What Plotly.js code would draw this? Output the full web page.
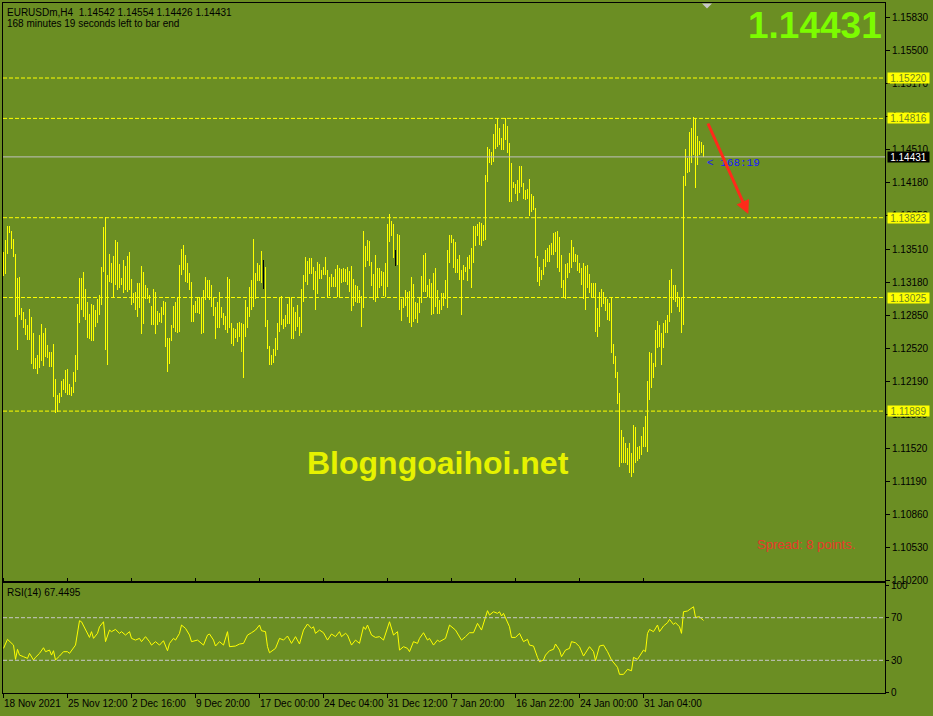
<!DOCTYPE html>
<html><head><meta charset="utf-8">
<script src="https://cdn.plot.ly/plotly-3.0.1.min.js"></script>
<style>html,body{margin:0;padding:0;background:#6B8E23;}#chart{width:933px;height:716px;}</style>
</head><body><div id="chart"></div>
<script>
// EURUSDm H4 bars (high / low), one per 4-hour bar
const highs = [
1.1348,1.1360,1.1374,1.1374,1.1369,1.1361,1.1346,1.1322,1.1323,1.1292,
1.1288,1.1281,1.1275,1.1291,1.1283,1.1267,1.1242,1.1245,1.1265,1.1276,
1.1267,1.1272,1.1255,1.1248,1.1248,1.1256,1.1221,1.1205,1.1207,1.1219,
1.1221,1.1230,1.1231,1.1216,1.1213,1.1228,1.1245,1.1296,1.1322,1.1322,
1.1328,1.1311,1.1298,1.1286,1.1296,1.1295,1.1290,1.1301,1.1305,1.1333,
1.1373,1.1383,1.1325,1.1346,1.1337,1.1344,1.1360,1.1358,1.1336,1.1322,
1.1340,1.1334,1.1344,1.1348,1.1321,1.1307,1.1308,1.1317,1.1317,1.1334,
1.1328,1.1315,1.1312,1.1305,1.1294,1.1311,1.1308,1.1289,1.1287,1.1293,
1.1299,1.1298,1.1262,1.1262,1.1275,1.1294,1.1298,1.1302,1.1335,1.1351,
1.1355,1.1345,1.1337,1.1327,1.1318,1.1295,1.1299,1.1303,1.1303,1.1303,
1.1310,1.1323,1.1320,1.1320,1.1315,1.1303,1.1293,1.1298,1.1308,1.1293,
1.1287,1.1284,1.1323,1.1321,1.1277,1.1272,1.1271,1.1277,1.1278,1.1277,
1.1276,1.1300,1.1293,1.1313,1.1320,1.1361,1.1327,1.1337,1.1335,1.1349,
1.1340,1.1333,1.1280,1.1254,1.1245,1.1251,1.1262,1.1277,1.1303,1.1304,
1.1281,1.1285,1.1296,1.1303,1.1303,1.1293,1.1288,1.1295,1.1283,1.1311,
1.1325,1.1343,1.1339,1.1342,1.1342,1.1333,1.1329,1.1338,1.1336,1.1330,
1.1333,1.1343,1.1330,1.1323,1.1326,1.1323,1.1331,1.1335,1.1332,1.1331,
1.1332,1.1331,1.1333,1.1329,1.1334,1.1321,1.1315,1.1314,1.1310,1.1304,
1.1369,1.1354,1.1360,1.1359,1.1338,1.1326,1.1345,1.1332,1.1332,1.1329,
1.1328,1.1337,1.1376,1.1386,1.1379,1.1376,1.1350,1.1366,1.1365,1.1301,
1.1303,1.1310,1.1308,1.1309,1.1323,1.1316,1.1298,1.1297,1.1302,1.1324,
1.1345,1.1347,1.1315,1.1321,1.1317,1.1327,1.1332,1.1310,1.1300,1.1307,
1.1307,1.1320,1.1350,1.1365,1.1365,1.1361,1.1358,1.1341,1.1345,1.1330,
1.1335,1.1333,1.1343,1.1345,1.1352,1.1374,1.1374,1.1376,1.1378,1.1377,
1.1375,1.1425,1.1453,1.1451,1.1448,1.1466,1.1476,1.1482,1.1472,1.1462,
1.1476,1.1482,1.1474,1.1457,1.1437,1.1418,1.1416,1.1420,1.1434,1.1434,
1.1417,1.1410,1.1411,1.1421,1.1406,1.1404,1.1392,1.1344,1.1333,1.1330,
1.1341,1.1350,1.1352,1.1355,1.1357,1.1367,1.1368,1.1369,1.1363,1.1345,
1.1320,1.1336,1.1337,1.1347,1.1360,1.1353,1.1346,1.1345,1.1337,1.1332,
1.1337,1.1334,1.1335,1.1326,1.1317,1.1317,1.1317,1.1292,1.1308,1.1311,
1.1308,1.1303,1.1301,1.1297,1.1302,1.1256,1.1244,1.1228,1.1207,1.1170,
1.1163,1.1157,1.1152,1.1157,1.1147,1.1175,1.1173,1.1153,1.1154,1.1164,
1.1173,1.1184,1.1219,1.1248,1.1247,1.1237,1.1270,1.1279,1.1275,1.1267,
1.1277,1.1280,1.1285,1.1320,1.1331,1.1315,1.1315,1.1308,1.1303,1.1303,
1.1424,1.1451,1.1442,1.1468,1.1472,1.1483,1.1482,1.1464,1.1459,1.1458,1.14554
];
const lows = [
1.1324,1.1326,1.1346,1.1367,1.1351,1.1343,1.1283,1.1250,1.1285,1.1280,
1.1272,1.1265,1.1260,1.1260,1.1236,1.1231,1.1231,1.1226,1.1232,1.1239,
1.1234,1.1243,1.1242,1.1233,1.1233,1.1203,1.1187,1.1188,1.1197,1.1203,
1.1210,1.1207,1.1205,1.1205,1.1204,1.1207,1.1218,1.1230,1.1277,1.1290,
1.1283,1.1280,1.1262,1.1261,1.1259,1.1259,1.1273,1.1277,1.1285,1.1295,
1.1328,1.1250,1.1235,1.1318,1.1317,1.1303,1.1315,1.1310,1.1312,1.1315,
1.1307,1.1310,1.1308,1.1310,1.1295,1.1297,1.1290,1.1283,1.1292,1.1266,
1.1276,1.1301,1.1301,1.1297,1.1275,1.1275,1.1266,1.1275,1.1278,1.1277,
1.1285,1.1253,1.1228,1.1236,1.1259,1.1272,1.1268,1.1267,1.1268,1.1325,
1.1330,1.1318,1.1317,1.1310,1.1278,1.1278,1.1287,1.1287,1.1286,1.1266,
1.1267,1.1300,1.1302,1.1300,1.1293,1.1284,1.1261,1.1272,1.1272,1.1282,
1.1275,1.1270,1.1267,1.1272,1.1256,1.1254,1.1262,1.1258,1.1263,1.1248,
1.1222,1.1263,1.1272,1.1283,1.1290,1.1293,1.1301,1.1319,1.1319,1.1317,
1.1311,1.1273,1.1251,1.1235,1.1235,1.1237,1.1244,1.1250,1.1268,1.1275,
1.1271,1.1273,1.1276,1.1276,1.1261,1.1261,1.1269,1.1273,1.1264,1.1267,
1.1298,1.1318,1.1315,1.1326,1.1326,1.1310,1.1290,1.1306,1.1321,1.1321,
1.1325,1.1325,1.1303,1.1304,1.1313,1.1313,1.1313,1.1303,1.1303,1.1317,
1.1318,1.1318,1.1315,1.1308,1.1289,1.1294,1.1298,1.1297,1.1297,1.1273,
1.1292,1.1333,1.1339,1.1334,1.1314,1.1300,1.1298,1.1303,1.1312,1.1314,
1.1304,1.1303,1.1313,1.1358,1.1364,1.1342,1.1334,1.1335,1.1290,1.1279,
1.1292,1.1294,1.1283,1.1277,1.1273,1.1278,1.1281,1.1277,1.1287,1.1297,
1.1308,1.1308,1.1303,1.1303,1.1285,1.1286,1.1293,1.1286,1.1286,1.1290,
1.1294,1.1301,1.1292,1.1337,1.1357,1.1332,1.1327,1.1327,1.1320,1.1285,
1.1320,1.1328,1.1319,1.1331,1.1312,1.1337,1.1354,1.1364,1.1355,1.1354,
1.1359,1.1360,1.1418,1.1437,1.1435,1.1438,1.1451,1.1453,1.1455,1.1450,
1.1450,1.1460,1.1447,1.1398,1.1398,1.1412,1.1406,1.1399,1.1407,1.1413,
1.1401,1.1400,1.1401,1.1384,1.1388,1.1390,1.1342,1.1318,1.1314,1.1320,
1.1325,1.1333,1.1338,1.1338,1.1345,1.1345,1.1348,1.1332,1.1328,1.1312,
1.1302,1.1301,1.1322,1.1327,1.1332,1.1338,1.1338,1.1329,1.1327,1.1315,
1.1301,1.1290,1.1312,1.1307,1.1303,1.1302,1.1268,1.1263,1.1273,1.1293,
1.1296,1.1289,1.1280,1.1279,1.1247,1.1236,1.1222,1.1196,1.1133,1.1137,
1.1137,1.1137,1.1135,1.1127,1.1123,1.1127,1.1137,1.1139,1.1141,1.1145,
1.1153,1.1153,1.1148,1.1200,1.1212,1.1222,1.1233,1.1252,1.1253,1.1235,
1.1252,1.1267,1.1267,1.1278,1.1287,1.1300,1.1298,1.1293,1.1288,1.1267,
1.1275,1.1414,1.1427,1.1428,1.1437,1.1445,1.1412,1.1435,1.1445,1.1447,1.14426
];
// bars drawn in the doji (black) colour
const dojiBars = [130, 196];

// RSI(14) readings: bar index and value
const rsiIdx = [0,2,5,6,7,8,10,12,13,15,16,18,20,21,23,24,25,26,28,30,32,33,36,38,39,41,43,44,45,47,48,50,51,53,54,56,58,59,61,63,64,66,68,69,71,73,74,76,78,80,82,83,85,86,88,89,91,93,94,97,98,100,102,103,105,106,108,110,112,113,116,118,120,122,124,126,128,129,131,132,133,136,138,140,142,144,146,148,150,152,154,155,156,158,160,162,164,166,168,169,171,172,174,176,178,180,181,182,184,186,188,190,193,195,197,198,200,202,203,205,207,208,210,212,213,215,217,218,221,223,226,229,231,233,235,237,239,240,242,243,245,247,248,249,250,253,254,256,258,260,262,263,265,267,268,270,271,273,275,276,278,279,281,283,284,286,288,290,292,293,295,296,298,300,302,304,307,308,310,312,314,315,317,319,320,321,322,323,325,327,328,330,332,333,335,336,338,339,340,342,345,346,348,350];
const rsiVal = [41.2,49.7,44.3,30.9,40.3,34.9,33.4,31.8,36.5,30.3,32.8,36.5,41.8,38.1,39.6,34.9,39.0,30.3,34.0,38.1,38.1,36.5,44.3,67.2,66.2,58.4,51.5,56.9,50.6,55.3,61.5,66.2,47.5,58.4,56.9,59.0,55.3,56.9,53.7,56.9,50.6,49.0,50.6,47.5,52.2,47.5,44.3,47.5,44.3,48.4,39.0,45.9,50.6,49.0,55.3,63.1,60.0,53.7,47.5,49.0,47.5,44.3,53.7,54.7,49.0,43.4,47.5,44.3,56.9,42.8,43.4,45.3,45.9,53.7,55.9,58.4,63.1,57.8,56.9,42.8,37.1,41.2,50.6,49.0,52.8,45.9,52.2,45.3,58.4,64.1,60.0,61.5,55.3,58.4,55.9,49.0,54.7,52.2,56.9,52.2,55.3,53.7,44.3,49.0,45.9,61.5,59.0,63.1,53.7,51.5,52.2,49.0,66.2,53.7,56.9,39.6,42.8,41.2,38.1,47.5,45.9,50.6,55.9,49.0,50.6,44.3,49.0,47.5,50.6,63.1,58.4,49.0,52.2,55.9,55.9,64.7,58.4,64.7,76.6,72.5,75.6,74.1,75.6,71.6,74.1,61.5,51.5,51.5,55.3,47.5,49.7,44.3,43.4,32.8,28.7,30.3,34.9,39.0,40.3,45.3,39.6,33.4,39.6,41.2,47.5,46.5,42.8,34.0,39.6,42.8,38.1,29.6,43.4,44.3,38.1,30.3,23.4,16.8,16.8,21.5,20.2,32.8,30.9,37.1,39.6,38.1,55.3,59.0,56.9,63.1,56.9,62.2,65.3,68.4,63.7,65.3,61.5,55.3,75.6,76.3,80.3,70.3,70.9,67.4];

const priceTicks = [1.1583,1.1550,1.1517,1.1484,1.1451,1.1418,1.1385,1.1351,1.1318,1.1285,1.1252,1.1219,1.1186,1.1152,1.1119,1.1086,1.1053,1.1020];
const rsiTicks = [0,30,70,100];
const rsiLevels = [30,70];
const levelPrices = [1.15220,1.14816,1.13823,1.13025,1.11889];
const lastPrice = 1.14431;
const dateTickIdx = [0,32,64,96,128,160,192,224,256,288,320];
const dateTickText = ['18 Nov 2021','25 Nov 12:00','2 Dec 16:00','9 Dec 20:00','17 Dec 00:00','24 Dec 04:00','31 Dec 12:00','7 Jan 20:00','16 Jan 22:00','24 Jan 00:00','31 Jan 04:00'];
const headerLine1 = 'EURUSDm,H4\u00a0 1.14542 1.14554 1.14426 1.14431';
const headerLine2 = '168 minutes 19 seconds left to bar end';
const rsiLabel = 'RSI(14) 67.4495';
const bigPrice = '1.14431';
const watermark = 'Blogngoaihoi.net';
const spreadText = 'Spread: 8 points.';
const countdown = '< 168:19';

const W = 933, H = 716;
const px = x => x / W;
const py = y => 1 - y / H;
const BG = '#6B8E23';
const FONT = 'Liberation Sans, Arial, sans-serif';

const idx = highs.map((_, i) => i);
const traces = [
  {
    type: 'bar', x: idx, base: lows, y: highs.map((h, i) => h - lows[i]),
    width: 0.5, xaxis: 'x', yaxis: 'y',
    marker: { color: idx.map(i => dojiBars.includes(i) ? '#000000' : '#ffff00'), line: { width: 0 } },
    hoverinfo: 'skip'
  },
  {
    type: 'scatter', mode: 'lines', x: rsiIdx, y: rsiVal, xaxis: 'x', yaxis: 'y2',
    line: { color: '#ffff00', width: 1 }, hoverinfo: 'skip'
  }
];

const shapes = [];
levelPrices.forEach(p => shapes.push({
  type: 'line', xref: 'x domain', x0: 0, x1: 1, yref: 'y', y0: p, y1: p,
  line: { color: '#ffff00', width: 1, dash: '4px,2px' }
}));
shapes.push({ type: 'line', xref: 'x domain', x0: 0, x1: 1, yref: 'y', y0: lastPrice, y1: lastPrice,
  line: { color: '#c0c0c0', width: 1 } });
rsiLevels.forEach(v => shapes.push({
  type: 'line', xref: 'x domain', x0: 0, x1: 1, yref: 'y2', y0: v, y1: v,
  line: { color: '#c8c8c8', width: 1, dash: '4px,2px' }
}));
shapes.push({ type: 'path', xref: 'paper', yref: 'paper', fillcolor: '#c8c8c8', line: { width: 0 },
  path: `M ${px(702)} ${py(3.5)} L ${px(712)} ${py(3.5)} L ${px(707)} ${py(8.5)} Z` });

const annotations = [];
const txt = (text, x, y, opts) => Object.assign({
  text, xref: 'paper', yref: 'paper', x: px(x), y: py(y), xanchor: 'left', yanchor: 'middle',
  showarrow: false, borderpad: 0, font: { family: FONT, size: 10, color: '#000000' }
}, opts || {});
annotations.push(txt(headerLine1, 6, 12));
annotations.push(txt(headerLine2, 6, 24));
annotations.push(txt(rsiLabel, 6, 592));
annotations.push(txt(bigPrice, 883, 26, { xanchor: 'right', font: { family: FONT, size: 37, color: '#7CFC00', weight: 'bold' } }));
annotations.push(txt('<b>' + watermark + '</b>', 306, 463, { font: { family: FONT, size: 32, color: '#e6f200' } }));
annotations.push(txt(spreadText, 756, 544, { font: { family: FONT, size: 13, color: '#e83a2a' } }));
annotations.push(txt(countdown, 706, 163, { font: { family: 'Liberation Mono, monospace', size: 11, color: '#1a1aff' } }));
levelPrices.forEach(p => annotations.push({
  text: p.toFixed(5), xref: 'paper', yref: 'y', x: px(887), y: p, xanchor: 'left', yanchor: 'middle',
  showarrow: false, bgcolor: '#ffff00', borderpad: 0, width: 41, height: 10,
  font: { family: FONT, size: 10, color: '#6b8423' }
}));
annotations.push({
  text: lastPrice.toFixed(5), xref: 'paper', yref: 'y', x: px(887), y: lastPrice, xanchor: 'left', yanchor: 'middle',
  showarrow: false, bgcolor: '#000000', borderpad: 0, width: 41, height: 10,
  font: { family: FONT, size: 10, color: '#ffffff' }
});
dateTickIdx.forEach((k, i) => annotations.push({
  text: dateTickText[i], xref: 'x', yref: 'paper', x: k, y: py(703), xanchor: 'left', yanchor: 'middle',
  xshift: -1, showarrow: false, borderpad: 0, font: { family: FONT, size: 10, color: '#000000' }
}));
annotations.push({
  text: '', xref: 'x', yref: 'y', x: 372.4, y: 1.1386, axref: 'x', ayref: 'y', ax: 351.9, ay: 1.1478,
  showarrow: true, arrowcolor: '#ff2a1a', arrowwidth: 3, arrowhead: 2, arrowsize: 0.9, standoff: 0, startstandoff: 0
});

const layout = {
  width: W, height: H, margin: { l: 0, r: 0, t: 0, b: 0 },
  paper_bgcolor: BG, plot_bgcolor: BG, showlegend: false, hovermode: false, bargap: 0,
  font: { family: FONT, size: 10, color: '#000000' },
  xaxis: {
    domain: [px(3), px(885)], range: [-0.25, 440.75], anchor: 'y2',
    showgrid: false, zeroline: false, showline: true, linecolor: '#000000', linewidth: 1, mirror: 'all',
    tickmode: 'array', tickvals: dateTickIdx, ticktext: dateTickIdx.map(() => ''), ticks: 'outside',
    ticklen: 4, tickcolor: '#000000', showticklabels: false, fixedrange: true
  },
  yaxis: {
    domain: [py(581), py(3)], range: [1.1019, 1.1597], side: 'right', anchor: 'x',
    showgrid: false, zeroline: false, showline: true, linecolor: '#000000', linewidth: 1, mirror: true,
    tickmode: 'array', tickvals: priceTicks, ticktext: priceTicks.map(v => v.toFixed(5)),
    ticks: 'outside', ticklen: 4, tickcolor: '#000000', tickfont: { family: FONT, size: 10, color: '#000000' }
  },
  yaxis2: {
    domain: [py(693), py(583)], range: [-0.7, 102.6], side: 'right', anchor: 'x',
    showgrid: false, zeroline: false, showline: true, linecolor: '#000000', linewidth: 1, mirror: true,
    tickmode: 'array', tickvals: rsiTicks, ticktext: rsiTicks.map(String),
    ticks: 'outside', ticklen: 3, tickcolor: '#000000', tickfont: { family: FONT, size: 10, color: '#000000' }
  },
  shapes, annotations
};

Plotly.newPlot('chart', traces, layout, { staticPlot: true, displayModeBar: false });
</script>
</body></html>
